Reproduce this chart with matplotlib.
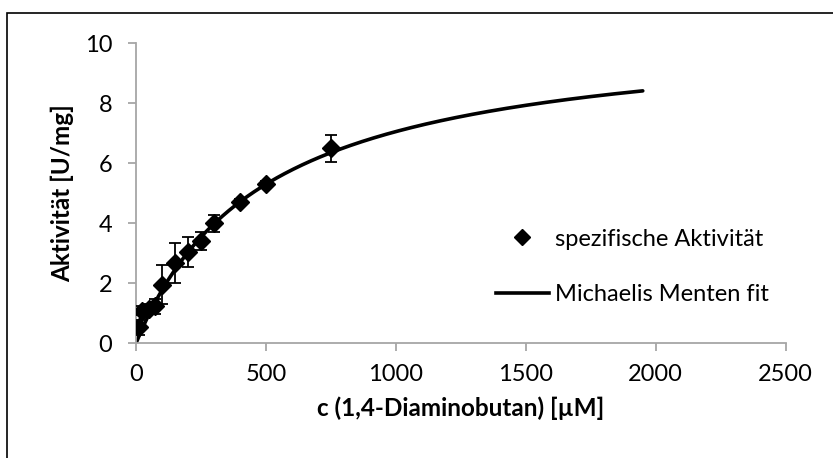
import numpy as np
import matplotlib
matplotlib.use("Agg")
import matplotlib.pyplot as plt
from matplotlib.patches import Rectangle
from matplotlib.lines import Line2D

# Substrate concentrations [µM] and measured specific activities [U/mg]
conc = [10, 25, 50, 75, 100, 150, 200, 250, 300, 400, 500, 750]
activity = [0.53, 1.08, 1.15, 1.24, 1.95, 2.68, 3.03, 3.40, 4.00, 4.70, 5.32, 6.50]
activity_err = [0.25, 0.15, 0.15, 0.25, 0.65, 0.67, 0.50, 0.30, 0.28, 0.10, 0.10, 0.45]

# Michaelis-Menten fit parameters
vmax = 10.54   # U/mg
km = 495.0     # µM
fit_max_conc = 1950

x_ticks = [0, 500, 1000, 1500, 2000, 2500]
y_ticks = [0, 2, 4, 6, 8, 10]

plt.rcParams['font.family'] = ['Lato', 'DejaVu Sans']

fig = plt.figure(figsize=(8.33, 4.58), dpi=100)
fig.patch.set_facecolor('white')

# Chart frame (extends past the lower and right edge)
fig.patches.append(Rectangle((7 / 833, -0.1), 1.2, 1 - 13 / 458 + 0.1,
                             transform=fig.transFigure, fill=False,
                             edgecolor='black', linewidth=1.2))

ax = fig.add_axes([136 / 833, 1 - 343.3 / 458, (785.7 - 136) / 833, (343.3 - 43) / 458])

xf = np.linspace(0, fit_max_conc, 400)
ax.plot(xf, vmax * xf / (km + xf), color='black', linewidth=2.6,
        zorder=2, solid_capstyle='round')

ax.errorbar(conc, activity, yerr=activity_err, fmt='D', color='black',
            markersize=9, ecolor='black', elinewidth=1.3, capsize=4.5,
            capthick=1.3, zorder=3)

ax.set_xlim(0, 2500)
ax.set_ylim(0, 10)
ax.set_xticks(x_ticks)
ax.set_yticks(y_ticks)

for side in ('top', 'right'):
    ax.spines[side].set_visible(False)
for side in ('left', 'bottom'):
    ax.spines[side].set_color('#a6a6a6')
    ax.spines[side].set_linewidth(1.3)
ax.tick_params(axis='both', direction='out', length=6, width=1.3,
               color='#a6a6a6', labelsize=17, labelcolor='black')
ax.tick_params(axis='x', pad=9)
ax.tick_params(axis='y', pad=11)

ax.set_xlabel('c (1,4-Diaminobutan) [µM]', fontsize=17.5, fontweight='bold', labelpad=8)
ax.set_ylabel('Aktivität [U/mg]', fontsize=17.5, fontweight='bold', labelpad=8)

legend_handles = [
    Line2D([], [], linestyle='none', marker='D', color='black', markersize=8),
    Line2D([], [], color='black', linewidth=2.6),
]
legend_labels = ['spezifische Aktivität', 'Michaelis Menten fit']
ax.legend(legend_handles, legend_labels,
          loc='center left', bbox_to_anchor=(0.521, 0.255), frameon=False,
          fontsize=17, handlelength=2.25, handletextpad=0.25,
          labelspacing=1.45)

fig.savefig('out.png', dpi=100, facecolor='white')
